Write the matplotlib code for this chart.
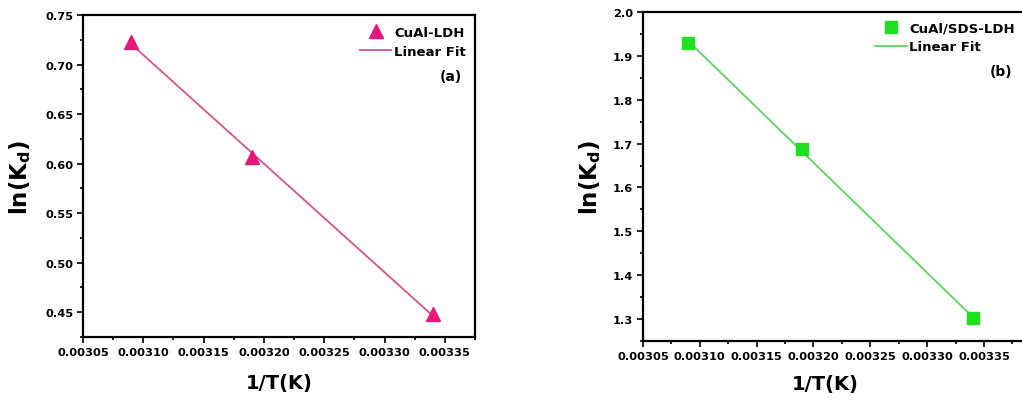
import numpy as np
import matplotlib
matplotlib.use("Agg")
import matplotlib.pyplot as plt
from matplotlib.ticker import MultipleLocator, FormatStrFormatter

plt.rcParams['font.family'] = ['DejaVu Sans']
plt.rcParams['font.weight'] = 'bold'
plt.rcParams['mathtext.default'] = 'bf'

# 1/T (K^-1) for both samples
inv_T = [0.00309, 0.00319, 0.00334]
# ln(Kd) values
lnkd_cual = [0.723, 0.607, 0.448]
lnkd_sds = [1.930, 1.687, 1.303]

labels = ['CuAl-LDH', 'CuAl/SDS-LDH']
panel_tags = ['(a)', '(b)']

fig = plt.figure(figsize=(10.22, 4.02), dpi=100)
W, H = 1022, 402
ax_a = fig.add_axes([83 / W, 1 - 338 / H, (475 - 83) / W, (338 - 16) / H])
ax_b = fig.add_axes([643 / W, 1 - 342 / H, (1030 - 643) / W, (342 - 13) / H])


def style_axes(ax):
    for sp in ax.spines.values():
        sp.set_linewidth(1.6)
    ax.tick_params(which='both', direction='out', top=False, right=False,
                   width=1.2, labelsize=8.2, pad=3)
    ax.tick_params(which='major', length=4)
    ax.tick_params(which='minor', length=2.5)
    ax.xaxis.set_major_locator(MultipleLocator(0.00005))
    ax.xaxis.set_minor_locator(MultipleLocator(0.000025))
    ax.xaxis.set_major_formatter(FormatStrFormatter('%.5f'))
    for lab in ax.get_xticklabels() + ax.get_yticklabels():
        lab.set_fontweight('bold')
    ax.set_xlabel('1/T(K)', fontsize=14, fontweight='bold')
    ax.set_ylabel(r'ln(K$_{d}$)', fontsize=16.5, fontweight='bold')


def fit_panel(ax, x, y, marker, mcolor, lcolor, label, ms):
    ax.plot(x, y, linestyle='none', marker=marker, color=mcolor, ms=ms,
            label=label, zorder=3)
    k, b = np.polyfit(x, y, 1)
    xx = np.array([x[0], x[-1]])
    ax.plot(xx, k * xx + b, color=lcolor, lw=1.3, label='Linear Fit', zorder=2)


fit_panel(ax_a, inv_T, lnkd_cual, '^', '#e5177a', '#d6548c', labels[0], 10)
ax_a.set_xlim(0.00305, 0.003375)
ax_a.set_ylim(0.425, 0.75)
ax_a.yaxis.set_major_locator(MultipleLocator(0.05))
ax_a.yaxis.set_minor_locator(MultipleLocator(0.025))
ax_a.yaxis.set_major_formatter(FormatStrFormatter('%.2f'))
style_axes(ax_a)
ax_a.legend(loc='upper right', bbox_to_anchor=(1.0, 0.995), frameon=False,
            handlelength=2.4, handletextpad=0.2, borderaxespad=0.3,
            labelspacing=0.45, prop={'weight': 'bold', 'size': 9.5})
ax_a.text(0.968, 0.81, panel_tags[0], transform=ax_a.transAxes, ha='right',
          va='center', fontsize=10, fontweight='bold')
ax_a.yaxis.set_label_coords(-0.128, 0.5)
ax_a.xaxis.set_label_coords(0.5, -0.112)

fit_panel(ax_b, inv_T, lnkd_sds, 's', '#1fe01f', '#5fd35f', labels[1], 8)
ax_b.set_xlim(0.00305, 0.0033905)
ax_b.set_ylim(1.25, 2.0)
ax_b.yaxis.set_major_locator(MultipleLocator(0.1))
ax_b.yaxis.set_minor_locator(MultipleLocator(0.05))
ax_b.yaxis.set_major_formatter(FormatStrFormatter('%.1f'))
style_axes(ax_b)
ax_b.legend(loc='upper right', bbox_to_anchor=(0.985, 1.0), frameon=False,
            handlelength=2.4, handletextpad=0.2, borderaxespad=0.3,
            labelspacing=0.45, prop={'weight': 'bold', 'size': 9.5})
ax_b.text(0.955, 0.82, panel_tags[1], transform=ax_b.transAxes, ha='right',
          va='center', fontsize=10, fontweight='bold')
ax_b.yaxis.set_label_coords(-0.103, 0.5)
ax_b.xaxis.set_label_coords(0.47, -0.1)

fig.savefig('out.png', dpi=100)
